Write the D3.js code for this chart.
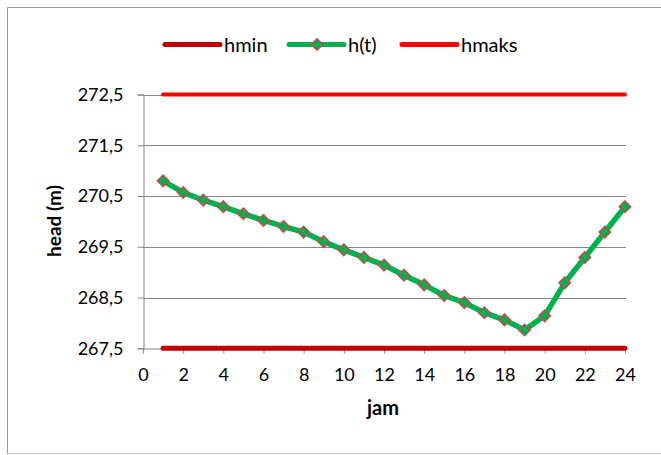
<!DOCTYPE html>
<html><head><meta charset="utf-8">
<script src="https://cdn.jsdelivr.net/npm/d3@7"></script>
<style>body{margin:0;background:#fff}svg{display:block}text{font-family:Lato,"Open Sans",sans-serif}</style>
</head><body>
<svg id="c" width="661" height="455"></svg>
<script>
const hours = [1,2,3,4,5,6,7,8,9,10,11,12,13,14,15,16,17,18,19,20,21,22,23,24];
const ht = [270.80,270.57,270.42,270.29,270.15,270.02,269.90,269.79,269.60,269.44,269.29,269.14,268.94,268.75,268.54,268.40,268.20,268.06,267.86,268.14,268.79,269.29,269.79,270.29];
const hminVal = 267.5;
const hmaksVal = 272.5;
const yTicks = [267.5,268.5,269.5,270.5,271.5,272.5];
const xTicks = [0,2,4,6,8,10,12,14,16,18,20,22,24];
const seriesNames = ["hmin","h(t)","hmaks"];

const svg = d3.select("#c");
// chart frame
svg.append("line").attr("x1",7.5).attr("x2",661).attr("y1",7.5).attr("y2",7.5).attr("stroke","#9a9a9a");
svg.append("line").attr("x1",7.5).attr("x2",7.5).attr("y1",7.5).attr("y2",454).attr("stroke","#9a9a9a");
svg.append("line").attr("x1",7.5).attr("x2",661).attr("y1",453.5).attr("y2",453.5).attr("stroke","#c8c8c8");

const x = d3.scaleLinear().domain([0,24]).range([143,625]);
const y = d3.scaleLinear().domain([267.5,272.5]).range([348.3,94.5]);
const grid = "#868686";

// gridlines
svg.append("g").selectAll("line").data(yTicks.slice(1)).join("line")
  .attr("x1",x(0)).attr("x2",x(24)+1).attr("y1",d=>Math.round(y(d))+0.5).attr("y2",d=>Math.round(y(d))+0.5)
  .attr("stroke",grid).attr("stroke-width",1);

// y axis
const yAxis = d3.axisLeft(y).tickValues(yTicks).tickSize(6).tickPadding(14)
  .tickFormat(d=>d3.format(".1f")(d).replace(".",","));
const gy = svg.append("g").attr("transform",`translate(${x(0)+0.5},0)`).call(yAxis);
gy.select(".domain").attr("stroke",grid);
gy.selectAll(".tick line").attr("stroke",grid);
gy.selectAll(".tick text").attr("font-size",18).attr("fill","#000");

// x axis
const xAxis = d3.axisBottom(x).tickValues(xTicks).tickSize(5).tickPadding(15).tickSizeOuter(0);
const gx = svg.append("g").attr("transform",`translate(0,${Math.round(y(267.5))+0.5})`).call(xAxis);
gx.select(".domain").attr("stroke",grid);
gx.selectAll(".tick line").attr("stroke",grid);
gx.selectAll(".tick text").attr("font-size",18).attr("fill","#000");

// lines
const line = d3.line().x(d=>x(d[0])).y(d=>y(d[1]));
svg.append("path").datum(hours.map(h=>[h,hminVal])).attr("d",line)
  .attr("fill","none").attr("stroke","#C00000").attr("stroke-width",5).attr("stroke-linecap","round");
svg.append("path").datum(hours.map(h=>[h,hmaksVal])).attr("d",line)
  .attr("fill","none").attr("stroke","#FF0000").attr("stroke-width",4).attr("stroke-linecap","round");
svg.append("path").datum(hours.map((h,i)=>[h,ht[i]])).attr("d",line)
  .attr("fill","none").attr("stroke","#00B050").attr("stroke-width",5.5).attr("stroke-linejoin","round").attr("stroke-linecap","round");
const diamond = d3.symbol().type(d3.symbolDiamond2).size(85);
svg.append("g").selectAll("path").data(hours.map((h,i)=>[h,ht[i]])).join("path")
  .attr("d",diamond).attr("transform",d=>`translate(${x(d[0])},${y(d[1])})`)
  .attr("fill","#00B050").attr("stroke","#C0504D").attr("stroke-width",1.5);

// axis titles
svg.append("text").attr("x",383).attr("y",415).attr("text-anchor","middle")
  .attr("font-size",20).attr("font-weight","bold").text("jam");
svg.append("text").attr("transform","translate(61,221) rotate(-90)").attr("text-anchor","middle")
  .attr("font-size",19).attr("font-weight","bold").text("head (m)");

// legend
const legX = [165,289,402];
const legColors = ["#C00000","#00B050","#FF0000"];
const lg = svg.append("g");
seriesNames.forEach((n,i)=>{
  lg.append("line").attr("x1",legX[i]).attr("x2",legX[i]+55).attr("y1",44.5).attr("y2",44.5)
    .attr("stroke",legColors[i]).attr("stroke-width",5).attr("stroke-linecap","round");
  if(i===1){
    lg.append("path").attr("d",diamond).attr("transform",`translate(${legX[i]+28},44.5)`)
      .attr("fill","#00B050").attr("stroke","#C0504D").attr("stroke-width",1.5);
  }
  lg.append("text").attr("x",legX[i]+59).attr("y",52).attr("font-size",20).text(n);
});
</script>
</body></html>
